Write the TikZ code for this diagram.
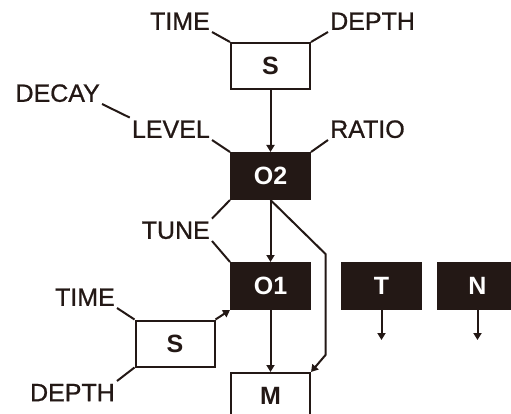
\documentclass[tikz,border=0pt]{standalone}
\usepackage{fontspec}
\setmainfont{Liberation Sans}
\newfontfamily\medfont[FakeBold=0.8]{Liberation Sans}
\usetikzlibrary{arrows.meta,positioning}
\definecolor{ink}{HTML}{231815}

\tikzset{
  wbox/.style={draw=ink, fill=white, line width=2pt, minimum width=79pt, minimum height=46pt,
    inner sep=0pt, text=ink, font=\fontsize{25}{27}\selectfont\bfseries},
  bbox/.style={wbox, fill=ink, text=white},
  lbl/.style={inner sep=2pt, text=ink, text height=18pt, text depth=0pt,
    font=\fontsize{25}{28}\medfont},
  wire/.style={draw=ink, line width=2pt},
  arr/.style={wire, -{Triangle[length=7pt,width=8pt]}}
}

\begin{document}
\begin{tikzpicture}[x=1pt, y=-1pt, node distance=108pt]
        \clip (0,0) rectangle (511,414);
        % Boxes
        \node[wbox] (s1) at (270.5,66) {S};
        \node[bbox] (o2) [below=62pt of s1] {O2};
        \node[bbox] (o1) [below=62pt of o2] {O1};
        \node[wbox] (m) [below=62pt of o1] {M};
        \node[bbox] (t) [right=30pt of o1] {T};
        \node[bbox] (n) [right=15pt of t] {N};
        \node[wbox] (s2) at (175,343.5) {S};

        % Labels
        \node[lbl, anchor=south east] (time1) at (212,32) {TIME};
        \node[lbl, anchor=south west] (depth1) at (328,32) {DEPTH};
        \node[lbl, anchor=south east] (decay) at (102,104) {DECAY};
        \node[lbl, anchor=south east] (level) at (212,140) {LEVEL};
        \node[lbl, anchor=south west] (ratio) at (328,140) {RATIO};
        \node[lbl, anchor=south east] (tune) at (212,241) {TUNE};
        \node[lbl, anchor=south east] (time2) at (117,308) {TIME};
        \node[lbl, anchor=north east] (depth2) at (117,381) {DEPTH};

        % Leader lines
        \draw[wire] (time1.south east) -- (s1.north west);
        \draw[wire] (depth1.south west) -- (s1.north east);
        \draw[wire] (decay.south east) -- (level.north west);
        \draw[wire] (level.south east) -- (o2.north west);
        \draw[wire] (ratio.south west) -- (o2.north east);
        \draw[wire] (tune.north east) -- (o2.south west);
        \draw[wire] (tune.south east) -- (o1.north west);
        \draw[wire] (time2.south east) -- (s2.north west);
        \draw[wire] (depth2.north east) -- (s2.south west);

        % Arrows
        \coordinate (tout) at ([yshift=-30pt]t.south);
        \coordinate (nout) at ([yshift=-30pt]n.south);
        \draw[arr] (s1) -- (o2);
        \draw[arr] (o2) -- (o1);
        \draw[arr] (o1) -- (m);
        \draw[arr] (s2.north east) -- (o1.south west);
        \draw[arr] (o2.south) -- ++(55,54) -- ++(0,101) -- (m.north east);
        \draw[arr] (t.south) -- (tout);
        \draw[arr] (n.south) -- (nout);
\end{tikzpicture}
\end{document}
